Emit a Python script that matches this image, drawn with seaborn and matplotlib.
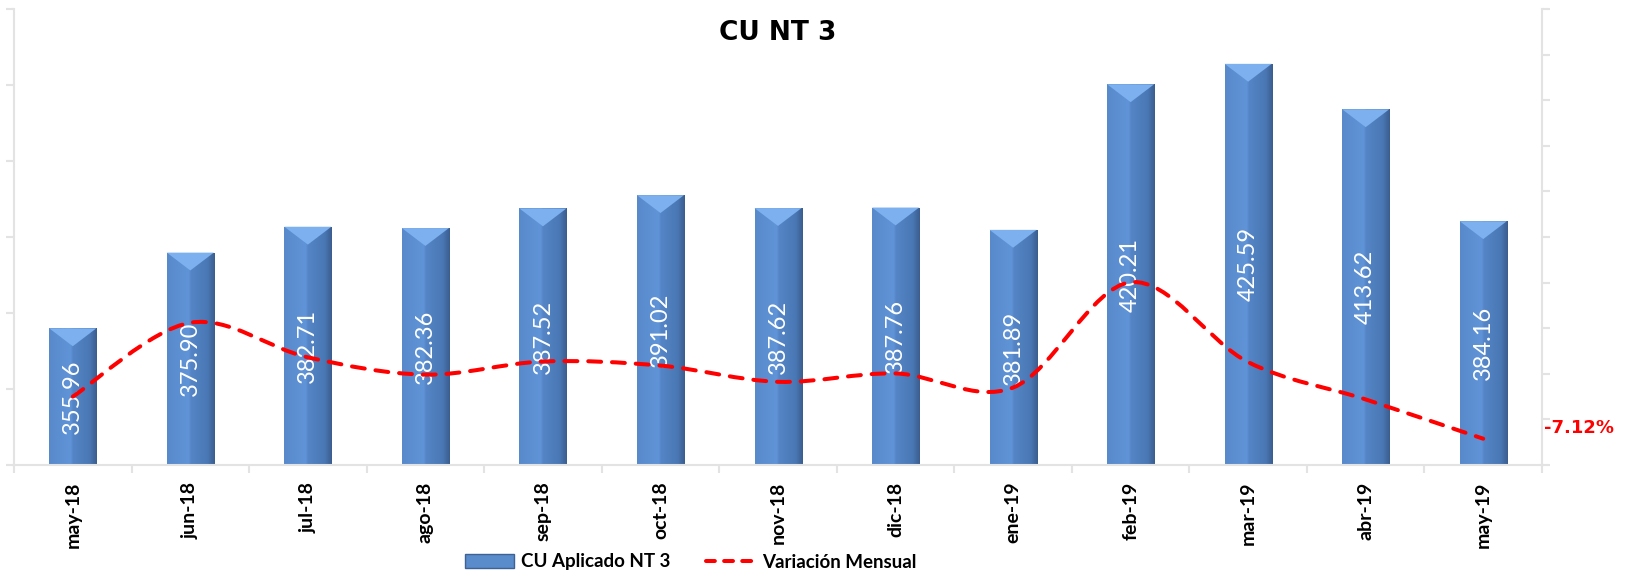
# Recreation of the CU NT 3 chart: bars for CU aplicado, dashed smooth line for the monthly variation

# %%
import numpy as np
import pandas as pd
import seaborn as sns
import matplotlib.pyplot as plt
from matplotlib.path import Path
from matplotlib.patches import PathPatch, Polygon, Patch
from matplotlib.lines import Line2D
from matplotlib.colors import LinearSegmentedColormap

# %%
# values
months = ['may-18', 'jun-18', 'jul-18', 'ago-18', 'sep-18', 'oct-18', 'nov-18',
          'dic-18', 'ene-19', 'feb-19', 'mar-19', 'abr-19', 'may-19']
cu_values = [355.96, 375.90, 382.71, 382.36, 387.52, 391.02, 387.62,
             387.76, 381.89, 420.21, 425.59, 413.62, 384.16]
# variacion mensual in percent
variation = [-2.5, 5.60, 1.81, -0.09, 1.35, 0.90, -0.88,
             0.04, -1.51, 10.04, 1.28, -2.81, -7.12]

data = pd.DataFrame({'mes': months, 'cu': cu_values})

# %%
sns.set_style('white')
plt.rcParams['font.family'] = ['Lato', 'DejaVu Sans']
plt.rcParams['text.color'] = 'black'
plt.rcParams['xtick.color'] = 'black'

fig = plt.figure(figsize=(16.29, 5.72), dpi=100)
ax = fig.add_axes([0.0086, 0.1871, 0.938, 0.797])

sns.barplot(data=data, x='mes', y='cu', color='#5A8BCB', width=0.4,
            saturation=1, ax=ax, zorder=2)

# give the bars the shaded excel look
bar_cmap = LinearSegmentedColormap.from_list(
    'bar', [(0, '#588ACB'), (0.45, '#6094D8'), (0.5, '#5585C6'),
            (0.85, '#4A78B5'), (1, '#3B5E90')])
grad = np.linspace(0, 1, 100).reshape(1, -1)
ymin, ymax = 320, 440
for p in list(ax.patches):
    x0, w, top = p.get_x(), p.get_width(), p.get_height()
    p.set_edgecolor('none')
    im = ax.imshow(grad, cmap=bar_cmap, extent=[x0, x0 + w, ymin, top],
                   aspect='auto', zorder=2.1)
    im.set_clip_path(p)
    ax.add_patch(Polygon([[x0, top], [x0 + w, top], [x0 + w / 2, top - 4.7]],
                         closed=True, fc='#7DB0EE', ec='none', zorder=2.2))

for i, v in enumerate(cu_values):
    ax.text(i, (ymin + v) / 2, f'{v:.2f}', rotation=90, ha='center',
            va='center', color='white', fontsize=17, zorder=3)

ax.set_xlim(-0.5, len(months) - 0.5)
ax.set_ylim(ymin, ymax)
ax.set_xlabel('')
ax.set_ylabel('')
ax.set_yticks(np.arange(320, 441, 20))
ax.set_yticklabels([])
ax.tick_params(axis='y', left=True, length=6, width=1.5, color='#E3E3E3')
ax.set_xticks(range(len(months)))
ax.set_xticklabels(months, rotation=90, fontsize=14, fontweight='bold')
ax.tick_params(axis='x', which='major', length=0, pad=12)
ax.set_xticks(np.arange(-0.5, len(months), 1), minor=True)
ax.tick_params(axis='x', which='minor', bottom=True, length=6, width=1.5,
               color='#E3E3E3')
for side in ['top', 'right']:
    ax.spines[side].set_visible(False)
for side in ['left', 'bottom']:
    ax.spines[side].set_color('#E3E3E3')
    ax.spines[side].set_linewidth(1.5)

# %%
# secondary axis with the smoothed dashed line
ax2 = ax.twinx()
ax2.set_ylim(-10, 40)
ax2.set_yticks(np.arange(-10, 41, 5))
ax2.set_yticklabels([])
ax2.tick_params(axis='y', right=True, length=6, width=1.5, color='#E3E3E3')
for side in ['top', 'left', 'bottom']:
    ax2.spines[side].set_visible(False)
ax2.spines['right'].set_color('#E3E3E3')
ax2.spines['right'].set_linewidth(1.5)

pts = np.column_stack([np.arange(len(variation)), variation])
n = len(pts)
verts = [pts[0]]
codes = [Path.MOVETO]
for i in range(n - 1):
    p0 = pts[max(i - 1, 0)]
    p1 = pts[i]
    p2 = pts[i + 1]
    p3 = pts[min(i + 2, n - 1)]
    verts += [p1 + (p2 - p0) / 6, p2 - (p3 - p1) / 6, p2]
    codes += [Path.CURVE4] * 3
ax2.add_patch(PathPatch(Path(verts, codes), fill=False, ec='#FF0000', lw=2.9,
                        linestyle=(0, (3.2, 2.7)), capstyle='round', zorder=3))

ax2.annotate(f'{variation[-1]:.2f}%', (n - 1, variation[-1]),
             xytext=(44, 8), textcoords='offset points', ha='left',
             va='center', color='#FF0000', fontsize=13, fontweight='bold',
             family='DejaVu Sans', annotation_clip=False)

# %%
fig.text(778 / 1629, 1 - 33 / 572, 'CU NT 3', ha='center', va='center',
         fontsize=19, fontweight='bold', family='DejaVu Sans')

handles = [Patch(fc='#5A8BCB', ec='#3E6294', lw=1),
           Line2D([], [], color='#FF0000', lw=2.9, linestyle=(0, (2.2, 2.3)),
                  dash_capstyle='round')]
fig.legend(handles, ['CU Aplicado NT 3', 'Variación Mensual'], loc='center',
           bbox_to_anchor=(691 / 1629, 1 - 562 / 572), ncol=2, frameon=False,
           prop={'weight': 'bold', 'size': 13.5}, handlelength=2.6,
           columnspacing=1.9, handletextpad=0.4)

fig.savefig('out.png', dpi=100)
